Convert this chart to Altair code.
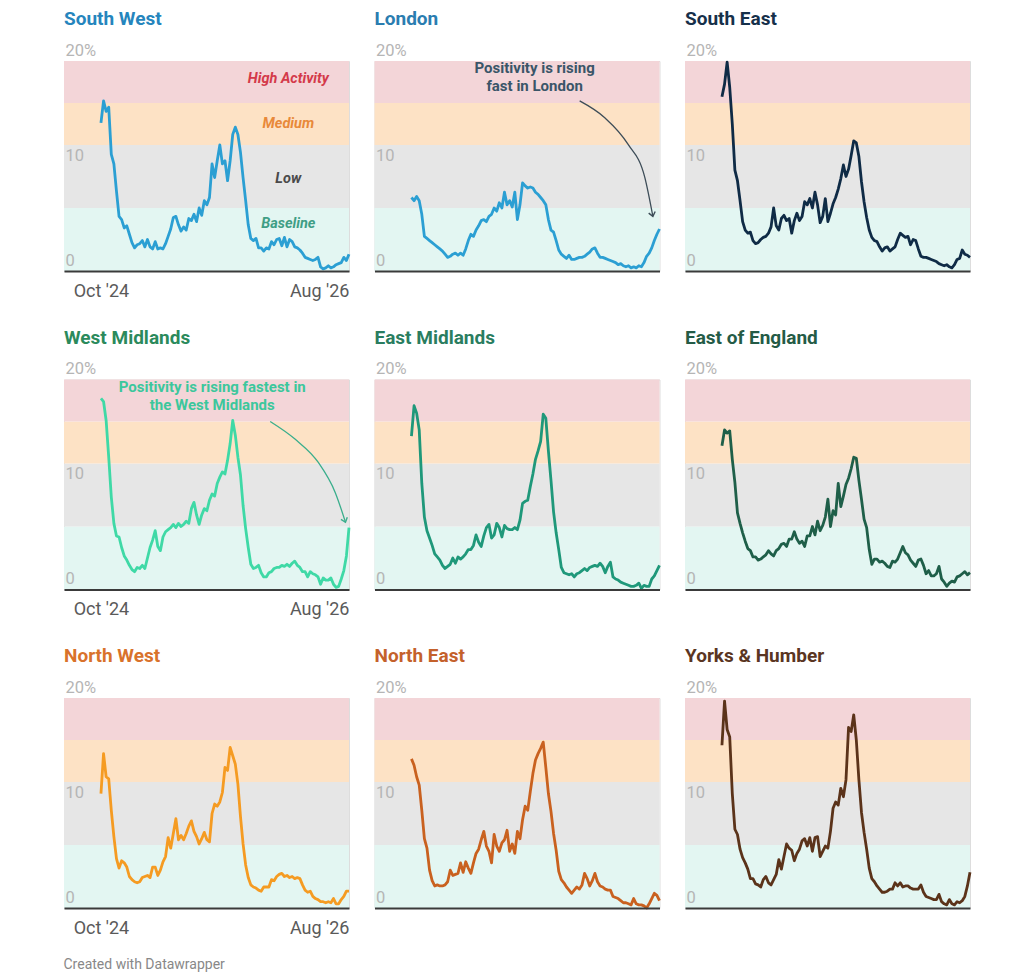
import altair as alt
import pandas as pd

# ---------------- data ----------------
regions = ["South West", "London", "South East",
           "West Midlands", "East Midlands", "East of England",
           "North West", "North East", "Yorks & Humber"]

title_colors = ["#2585bd", "#2a7db0", "#16304a",
                "#2b8a5c", "#2a7d60", "#245b46",
                "#d9722b", "#c4612b", "#5a3522"]

line_colors = ["#2b9fd3", "#2b9fd3", "#0f2b46",
               "#3fd9a6", "#1f987a", "#1f5f49",
               "#f59b22", "#c9611f", "#5b331a"]

south_west = [14.1, 16.2, 15.2, 15.6, 11.1, 10.2, 7.6, 5.2, 4.9, 4.1,
              4.3, 3.5, 2.7, 2.2, 2.5, 2.6, 2.9, 2.3, 3.0, 2.3,
              2.1, 2.8, 2.1, 2.2, 2.1, 2.6, 3.3, 4.0, 5.1, 5.2,
              4.4, 3.8, 4.2, 3.9, 5.0, 4.8, 5.4, 4.7, 6.0, 5.3,
              6.7, 6.3, 7.0, 10.2, 8.9, 10.5, 12.0, 10.2, 10.5, 8.6,
              10.5, 13.0, 13.7, 13.0, 11.3, 8.9, 6.7, 4.4, 3.1, 2.9,
              3.1, 2.2, 2.2, 1.9, 2.2, 2.1, 2.8, 2.5, 3.0, 3.1,
              2.4, 3.2, 2.3, 3.0, 2.8, 2.3, 2.2, 2.0, 1.7, 1.3,
              1.2, 1.1, 1.0, 1.1, 1.3, 0.4, 0.2, 0.3, 0.5, 0.3,
              0.4, 0.6, 0.7, 0.8, 1.3, 1.0, 1.6]

london = [7.0, 6.7, 7.1, 6.7, 5.4, 3.3, 3.1, 2.9, 2.7, 2.5,
          2.3, 2.1, 1.9, 1.6, 1.3, 1.4, 1.6, 1.7, 1.5, 1.7,
          1.5, 2.1, 2.9, 3.5, 3.3, 3.9, 4.3, 4.8, 4.9, 4.7,
          5.2, 5.4, 6.0, 5.7, 6.5, 6.0, 7.5, 6.3, 6.7, 6.1,
          7.5, 4.9, 6.3, 8.4, 8.1, 7.9, 8.0, 7.9, 7.5, 7.3,
          7.0, 6.7, 6.3, 4.9, 3.9, 3.7, 2.9, 2.0, 1.6, 1.4,
          1.2, 1.5, 1.1, 1.1, 1.2, 1.3, 1.3, 1.4, 1.6, 1.8,
          2.1, 2.2, 1.7, 1.3, 1.3, 1.2, 1.1, 1.0, 0.9, 0.8,
          0.6, 0.7, 0.5, 0.4, 0.5, 0.3, 0.4, 0.3, 0.5, 0.4,
          0.8, 1.4, 1.7, 2.2, 2.9, 3.5, 4.0]

south_east = [16.6, 17.8, 19.9, 17.5, 14.0, 9.6, 8.6, 6.7, 4.7, 3.9,
              3.6, 3.7, 2.9, 2.6, 2.7, 3.0, 3.2, 3.3, 3.6, 4.2,
              6.0, 4.3, 3.9, 5.0, 5.3, 4.8, 5.0, 3.6, 4.8, 5.5,
              4.8, 5.2, 6.6, 6.3, 6.9, 6.0, 7.5, 6.3, 4.6, 5.2,
              6.9, 4.7, 5.5, 6.4, 7.0, 7.8, 8.8, 10.1, 9.0, 9.7,
              11.0, 12.4, 12.2, 10.9, 8.5, 6.6, 5.1, 3.9, 3.2, 2.9,
              2.8, 2.3, 1.9, 2.2, 2.3, 1.9, 2.1, 2.3, 3.0, 3.6,
              3.4, 3.2, 3.3, 2.5, 3.0, 2.9, 2.1, 1.4, 1.3, 1.3,
              1.2, 1.1, 1.0, 0.9, 0.7, 0.6, 0.5, 0.6, 0.4, 0.3,
              0.6, 1.1, 1.2, 2.0, 1.6, 1.5, 1.3]

west_midlands = [18.2, 17.9, 16.1, 12.6, 8.8, 6.3, 5.1, 5.0, 4.0, 3.2,
                 2.8, 2.3, 1.9, 1.7, 2.1, 2.0, 2.3, 2.0, 3.0, 4.0,
                 4.7, 5.6, 4.1, 3.7, 5.0, 5.5, 5.7, 5.9, 6.2, 5.9,
                 6.3, 6.0, 6.2, 6.5, 6.3, 7.7, 8.3, 7.1, 6.2, 7.1,
                 7.7, 7.5, 8.5, 9.1, 8.9, 10.1, 10.7, 11.2, 11.0, 12.3,
                 13.9, 16.1, 14.7, 12.6, 10.9, 8.0, 5.8, 4.0, 2.4, 2.0,
                 2.1, 2.3, 1.6, 1.2, 1.2, 1.6, 1.7, 2.0, 2.1, 2.1,
                 2.3, 2.2, 2.4, 2.2, 2.5, 2.7, 2.3, 2.1, 1.7, 1.7,
                 1.2, 1.7, 1.5, 1.4, 1.2, 0.5, 1.1, 0.9, 0.9, 1.1,
                 0.5, 0.2, 0.3, 1.0, 1.8, 3.2, 5.9]

east_midlands = [14.6, 17.5, 16.8, 15.2, 10.1, 6.9, 5.6, 4.9, 4.2, 3.4,
                 3.1, 2.8, 2.3, 2.0, 2.2, 2.4, 3.0, 2.5, 3.1, 2.9,
                 3.1, 3.4, 3.8, 3.8, 4.2, 5.2, 4.5, 4.1, 5.1, 5.9,
                 6.2, 4.9, 5.2, 6.3, 5.9, 5.0, 6.1, 5.8, 5.7, 5.7,
                 5.9, 5.7, 6.6, 8.2, 8.4, 8.5, 9.8, 11.0, 12.4, 13.2,
                 14.1, 16.7, 16.3, 13.2, 10.4, 7.4, 5.4, 3.8, 2.1, 1.6,
                 1.5, 1.4, 1.5, 1.2, 1.5, 1.6, 1.8, 2.0, 1.8, 2.1,
                 2.2, 2.3, 2.2, 2.5, 2.2, 1.6, 2.2, 2.6, 1.2, 1.0,
                 0.9, 0.7, 0.6, 0.5, 0.4, 0.3, 0.3, 0.4, 0.6, 0.1,
                 0.4, 0.3, 0.3, 1.0, 1.3, 1.8, 2.3]

east_of_england = [13.7, 15.2, 14.9, 15.1, 12.4, 10.2, 7.3, 6.3, 5.4, 4.6,
                   3.9, 3.7, 3.1, 3.1, 2.8, 2.9, 3.1, 3.3, 3.7, 3.4,
                   3.2, 3.7, 3.9, 4.3, 4.4, 4.1, 4.8, 4.8, 5.5, 4.8,
                   4.4, 4.6, 4.1, 5.1, 5.1, 6.0, 5.2, 6.5, 5.6, 6.1,
                   6.9, 8.6, 6.0, 7.5, 7.1, 10.1, 7.9, 8.9, 10.0, 10.6,
                   11.5, 12.6, 12.5, 10.4, 8.6, 6.7, 5.9, 3.8, 2.4, 2.9,
                   2.9, 2.6, 2.7, 2.5, 2.2, 2.1, 2.7, 2.6, 2.9, 3.5,
                   4.1, 3.5, 3.3, 2.8, 2.5, 2.2, 2.8, 2.9, 2.3, 1.5,
                   1.8, 1.3, 1.3, 1.5, 2.2, 1.0, 0.7, 0.3, 0.6, 0.8,
                   0.7, 1.2, 1.3, 1.5, 1.7, 1.4, 1.6]

north_west = [10.9, 14.7, 12.5, 12.3, 9.3, 6.8, 4.7, 3.8, 4.5, 4.3,
              3.9, 3.0, 2.7, 2.5, 2.4, 2.5, 2.9, 3.0, 3.1, 2.9,
              3.9, 3.9, 3.1, 3.6, 4.4, 4.9, 6.7, 5.7, 7.1, 8.5,
              6.5, 6.9, 6.5, 7.1, 7.8, 8.3, 7.3, 6.8, 6.1, 6.6,
              7.2, 6.5, 6.3, 9.0, 9.9, 9.7, 10.1, 11.0, 13.4, 13.1,
              15.3, 14.5, 13.7, 11.8, 8.7, 6.1, 4.1, 2.9, 2.2, 2.0,
              1.9, 1.7, 1.6, 2.0, 2.0, 2.0, 2.7, 2.6, 3.0, 3.2,
              3.3, 3.0, 3.1, 2.9, 3.0, 2.8, 2.9, 2.8, 2.2, 1.7,
              1.5, 1.6, 1.1, 0.9, 0.8, 0.6, 0.6, 0.5, 0.6, 0.5,
              0.9, 0.4, 0.4, 0.8, 1.1, 1.6, 1.6]

north_east = [14.2, 13.6, 12.5, 11.7, 9.3, 6.6, 5.7, 3.6, 2.6, 2.1,
              2.2, 2.1, 2.1, 2.2, 2.5, 3.6, 3.1, 3.2, 3.3, 4.3,
              3.4, 4.4, 3.8, 3.3, 4.3, 5.2, 5.6, 6.5, 7.3, 5.9,
              5.4, 4.3, 7.0, 5.9, 5.4, 6.2, 6.5, 7.4, 5.4, 6.1,
              5.2, 7.3, 6.6, 8.4, 9.7, 9.3, 11.1, 12.8, 14.1, 14.7,
              15.2, 15.8, 13.4, 10.9, 9.2, 7.1, 5.5, 3.5, 2.7, 2.4,
              2.0, 1.7, 1.4, 1.7, 2.0, 1.8, 2.2, 3.3, 2.8, 2.1,
              2.6, 3.3, 2.5, 2.1, 2.0, 1.8, 1.7, 1.7, 1.1, 1.0,
              0.9, 0.7, 0.5, 0.5, 0.4, 0.3, 0.9, 0.4, 0.3, 0.3,
              0.2, 0.0, 0.4, 0.9, 1.4, 1.2, 0.7]

yorks_humber = [15.5, 19.7, 17.0, 16.3, 10.9, 7.5, 7.0, 5.6, 4.8, 4.3,
                3.7, 2.8, 2.8, 2.3, 2.2, 2.0, 2.7, 3.0, 2.4, 2.2,
                2.7, 3.2, 4.6, 3.7, 4.9, 6.1, 5.7, 5.5, 4.5, 5.2,
                5.6, 6.4, 6.6, 5.9, 6.7, 5.4, 6.7, 6.8, 4.9, 5.4,
                5.9, 5.7, 7.3, 9.5, 10.1, 9.8, 11.4, 10.6, 12.2, 17.2,
                16.8, 18.4, 16.0, 12.2, 9.1, 7.2, 5.6, 3.8, 2.8, 2.5,
                2.1, 1.8, 1.5, 1.5, 1.6, 1.8, 1.8, 2.4, 2.1, 2.4,
                2.0, 2.1, 2.1, 1.9, 1.8, 1.8, 1.8, 2.2, 1.5, 1.1,
                1.0, 0.9, 0.8, 0.8, 1.3, 0.6, 0.4, 0.3, 0.8, 0.4,
                0.3, 0.6, 0.5, 0.7, 1.1, 2.1, 3.4]

series = [south_west, london, south_east,
          west_midlands, east_midlands, east_of_england,
          north_west, north_east, yorks_humber]

# activity bands (percent positivity)
band_names = ["Baseline", "Low", "Medium", "High Activity"]
band_lo = [0, 6, 12, 16]
band_hi = [6, 12, 16, 20]
band_fill = ["#e3f6f2", "#e6e6e6", "#fde2c5", "#f3d5d8"]
band_text_color = ["#3f9e85", "#4a4a4a", "#e8893a", "#d43a4a"]
band_label_y = [4.5, 8.8, 14.0, 18.3]
band_label_week = 72.4

# annotations (week index from first data point, value in %)
london_note = "Positivity is rising\nfast in London"
london_note_pos = (47.6, 19.3)
london_arrow_w = [65.0, 74.7, 83.6, 90.2, 93.3]
london_arrow_v = [16.2, 14.6, 12.1, 8.9, 5.2]

wm_note = "Positivity is rising fastest in\nthe West Midlands"
wm_note_pos = (43.0, 19.3)
wm_arrow_w = [65.4, 75.1, 84.0, 90.6, 94.5]
wm_arrow_v = [16.0, 14.3, 12.1, 9.2, 6.4]

footer = "Created with Datawrapper"

# ---------------- helpers ----------------
START = pd.Timestamp("2024-10-01")
END = pd.Timestamp("2026-08-03")
DOMAIN = [alt.DateTime(year=2024, month=6, date=23),
          alt.DateTime(year=2026, month=8, date=3)]
TICKS = [alt.DateTime(year=2024, month=10, date=1),
         alt.DateTime(year=2026, month=8, date=3)]
AXIS_START = pd.Timestamp("2024-06-23")

W, H = 285, 210
FONT = "Roboto"


def series_dates(n):
    step = (END - START) / (n - 1)
    return [START + step * i for i in range(n)]


def week_to_date(w):
    return START + pd.Timedelta(days=7 * w)


xscale = alt.Scale(domain=DOMAIN)
yscale = alt.Scale(domain=[0, 20], nice=False, zero=True)


def x_axis(show_labels):
    return alt.Axis(values=TICKS, format="%b '%y", labels=show_labels,
                    ticks=False, grid=False, domain=True,
                    domainColor="#3a3a3a", domainWidth=2,
                    labelFont=FONT, labelFontSize=18, labelColor="#5a5a5a",
                    labelPadding=11, labelFlush=6, labelOverlap=False,
                    title=None, zindex=2)


y_axis = alt.Axis(values=[0, 10, 20],
                  labelExpr="datum.value == 20 ? '20%' : datum.label",
                  ticks=False, domain=False, grid=False,
                  labelAlign="left", labelBaseline="alphabetic",
                  labelPadding=-1, labelOffset=-6,
                  labelFont=FONT, labelFontSize=16.5, labelColor="#b5b5b5",
                  title=None, zindex=2)


def panel(idx):
    name = regions[idx]
    col = idx % 3
    xa = x_axis(col == 0)

    bands = pd.DataFrame({"lo": band_lo, "hi": band_hi, "fill": band_fill,
                          "x0": [AXIS_START] * 4, "x1": [END] * 4})
    band_layer = alt.Chart(bands).mark_rect().encode(
        x=alt.X("x0:T", scale=xscale, axis=xa),
        x2="x1:T",
        y=alt.Y("lo:Q", scale=yscale, axis=y_axis),
        y2="hi:Q",
        color=alt.Color("fill:N", scale=None),
    )

    vals = series[idx]
    df = pd.DataFrame({"date": series_dates(len(vals)), "v": vals})
    line = alt.Chart(df).mark_line(color=line_colors[idx], strokeWidth=2.8,
                                   strokeJoin="round").encode(
        x=alt.X("date:T", scale=xscale, axis=xa),
        y=alt.Y("v:Q", scale=yscale, axis=y_axis),
    )

    layers = [band_layer, line]

    if idx == 0:
        lab = pd.DataFrame({"name": band_names, "y": band_label_y,
                            "c": band_text_color,
                            "date": [week_to_date(band_label_week)] * 4})
        layers.append(alt.Chart(lab).mark_text(
            font=FONT, fontSize=14.5, fontWeight="bold", fontStyle="italic",
            align="center", baseline="middle").encode(
            x=alt.X("date:T", scale=xscale, axis=xa),
            y=alt.Y("y:Q", scale=yscale, axis=y_axis),
            text="name:N",
            color=alt.Color("c:N", scale=None)))

    def annotation(note, pos, aw, av, tcolor, acolor, angle):
        tdf = pd.DataFrame({"t": [note], "date": [week_to_date(pos[0])],
                            "v": [pos[1]]})
        txt = alt.Chart(tdf).mark_text(
            font=FONT, fontSize=15, fontWeight="bold", color=tcolor,
            align="center", baseline="middle", lineBreak="\n",
            lineHeight=18).encode(
            x=alt.X("date:T", scale=xscale, axis=xa),
            y=alt.Y("v:Q", scale=yscale, axis=y_axis),
            text="t:N")
        adf = pd.DataFrame({"date": [week_to_date(w) for w in aw], "v": av})
        arr = alt.Chart(adf).mark_line(color=acolor, strokeWidth=1.3,
                                       interpolate="monotone").encode(
            x=alt.X("date:T", scale=xscale, axis=xa),
            y=alt.Y("v:Q", scale=yscale, axis=y_axis))
        hdf = adf.tail(1)
        head = alt.Chart(hdf).mark_point(
            shape="M-0.8,-1L0,0L0.8,-1", filled=False, color=acolor,
            strokeWidth=1.4, size=70, angle=angle, opacity=1).encode(
            x=alt.X("date:T", scale=xscale, axis=xa),
            y=alt.Y("v:Q", scale=yscale, axis=y_axis))
        return [arr, head, txt]

    if idx == 1:
        layers += annotation(london_note, london_note_pos, london_arrow_w,
                             london_arrow_v, "#3a5568", "#3d4d58", 347)
    if idx == 3:
        layers += annotation(wm_note, wm_note_pos, wm_arrow_w, wm_arrow_v,
                             "#3cc79c", "#3aae8c", 341)

    return alt.layer(*layers).properties(
        width=W, height=H,
        title=alt.Title(name, color=title_colors[idx], font=FONT,
                        fontSize=19, fontWeight="bold", anchor="start",
                        offset=13))


rows = [alt.hconcat(*[panel(r * 3 + c) for c in range(3)], spacing=22.5)
        for r in range(3)]

chart = alt.vconcat(*rows, spacing=26.5).properties(
    padding={"left": 55, "top": 1, "right": 10, "bottom": 6},
    title=alt.Title(footer, orient="bottom", anchor="start", font=FONT,
                    fontSize=14, fontWeight="normal", color="#888888",
                    offset=20),
).configure_view(stroke=None).configure(font=FONT)

chart.save("out.html", embed_options={"renderer": "svg", "actions": False})
